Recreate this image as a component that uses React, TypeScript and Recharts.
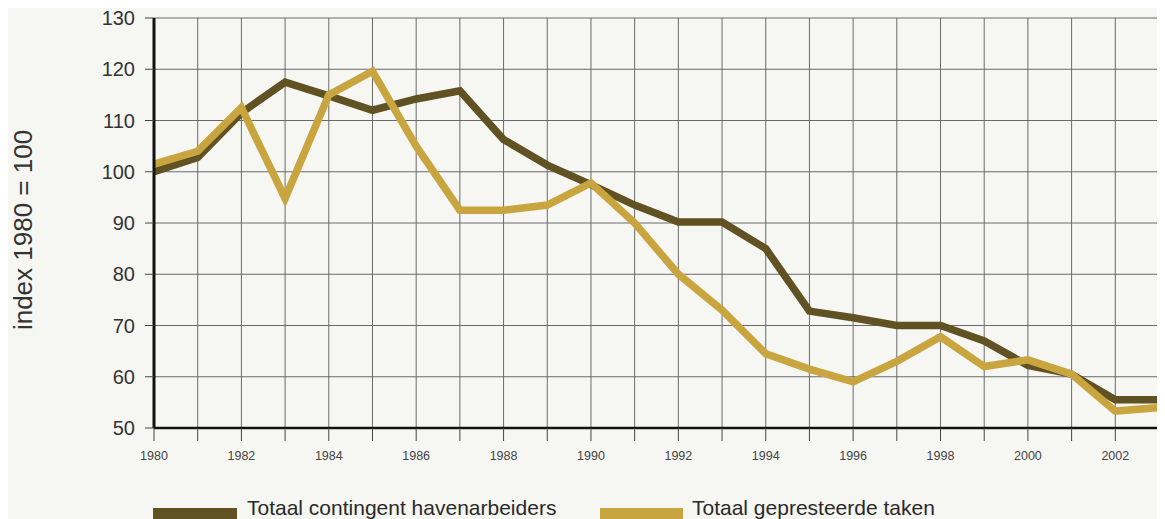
import React from 'react';
import { LineChart, Line, XAxis, YAxis, CartesianGrid, Legend, Label } from 'recharts';

const years = [1980, 1981, 1982, 1983, 1984, 1985, 1986, 1987, 1988, 1989, 1990, 1991, 1992, 1993, 1994, 1995, 1996, 1997, 1998, 1999, 2000, 2001, 2002, 2003];
const contingent = [100, 102.8, 111.5, 117.5, 114.8, 112, 114.2, 115.8, 106.3, 101.3, 97.5, 93.5, 90.2, 90.2, 85, 72.8, 71.5, 70, 70, 67, 62.2, 60.5, 55.5, 55.5];
const taken = [101.5, 104, 112.5, 94.8, 115, 119.6, 105, 92.5, 92.5, 93.5, 97.8, 90, 80, 73, 64.5, 61.5, 59, 63, 67.8, 62, 63.3, 60.5, 53.3, 54];
const yTicks = [50, 60, 70, 80, 90, 100, 110, 120, 130];
const seriesNames = ['Totaal contingent havenarbeiders', 'Totaal gepresteerde taken'];
const yLabel = 'index 1980 = 100';

const data = years.map((y, i) => ({ year: y, contingent: contingent[i], taken: taken[i] }));

const DARK = '#615223';
const LIGHT = '#c9a53f';
const FONT = '"Liberation Sans", Arial, Helvetica, sans-serif';

const XTick = (props: any) => {
  const { x, y, payload } = props;
  if (payload.value % 2 !== 0) return null;
  return (
    <text x={x} y={y} dy="0.71em" textAnchor="middle" fontSize={12.5} fill="#444" fontFamily={FONT}>
      {payload.value}
    </text>
  );
};

const YLabel = (props: any) => {
  const vb = props.viewBox || {};
  const cy = (vb.y ?? 10) + (vb.height ?? 410) / 2 + 7;
  const cx = 24;
  return (
    <text x={cx} y={cy} transform={`rotate(-90, ${cx}, ${cy})`} textAnchor="middle" fontSize={26} fill="#333" fontFamily={FONT}>
      {yLabel}
    </text>
  );
};

const LegendContent = () => (
  <div style={{ position: 'relative', width: 1157, height: 30, fontFamily: FONT, fontSize: 21, color: '#2a2a2a' }}>
    <div style={{ position: 'absolute', left: 145, top: 19, width: 84, height: 11, background: DARK }} />
    <div style={{ position: 'absolute', left: 239, top: 8, lineHeight: '21px', whiteSpace: 'nowrap' }}>{seriesNames[0]}</div>
    <div style={{ position: 'absolute', left: 592, top: 19, width: 83, height: 11, background: LIGHT }} />
    <div style={{ position: 'absolute', left: 684, top: 8, lineHeight: '21px', whiteSpace: 'nowrap' }}>{seriesNames[1]}</div>
  </div>
);

export default function App() {
  return (
    <div style={{ background: '#f6f6f3', margin: -8, padding: 8, width: 1157, height: 511 }}>
      <LineChart width={1157} height={511} data={data} margin={{ top: 10, right: 6, left: 0, bottom: 0 }}>
        <CartesianGrid stroke="#6a6a6a" strokeWidth={1} />
        <XAxis
          dataKey="year"
          type="number"
          domain={[1980, 2003]}
          ticks={years}
          interval={0}
          height={61}
          tickSize={13}
          tickMargin={10}
          tick={<XTick />}
          tickLine={{ stroke: '#444', strokeWidth: 1 }}
          axisLine={{ stroke: '#111', strokeWidth: 2.5 }}
        />
        <YAxis
          type="number"
          domain={[50, 130]}
          ticks={yTicks}
          interval={0}
          width={146}
          tickSize={9}
          tickMargin={10}
          tick={{ fontSize: 20, fill: '#333', fontFamily: FONT }}
          tickLine={{ stroke: '#444', strokeWidth: 1 }}
          axisLine={{ stroke: '#111', strokeWidth: 3 }}
        >
          <Label content={<YLabel />} />
        </YAxis>
        <Legend
          verticalAlign="bottom"
          content={<LegendContent />}
          wrapperStyle={{ left: 0, bottom: 0, width: 1157, height: 30 }}
        />
        <Line
          type="linear"
          dataKey="contingent"
          name={seriesNames[0]}
          stroke={DARK}
          strokeWidth={7.5}
          dot={false}
          activeDot={false}
          isAnimationActive={false}
        />
        <Line
          type="linear"
          dataKey="taken"
          name={seriesNames[1]}
          stroke={LIGHT}
          strokeWidth={7.5}
          dot={false}
          activeDot={false}
          isAnimationActive={false}
        />
      </LineChart>
    </div>
  );
}
